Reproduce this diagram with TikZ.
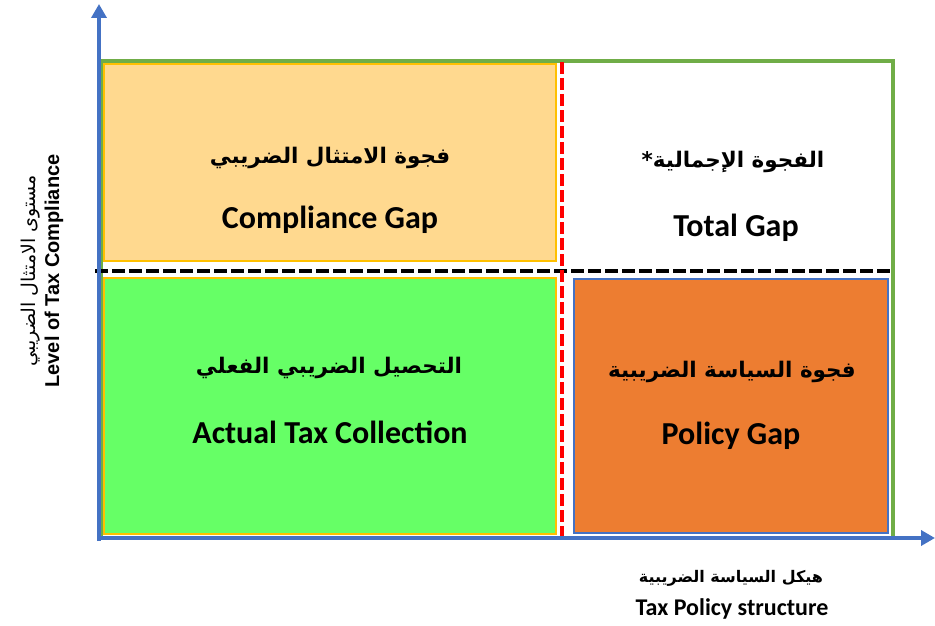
\documentclass[tikz,border=0pt]{standalone}
\usepackage{fontspec}
\setmainfont{Carlito}
\newfontfamily\arabicfont[Script=Arabic]{DejaVu Sans}
\newfontfamily\arialfont{Liberation Sans}
\TeXXeTstate=1
\usetikzlibrary{arrows.meta}

\definecolor{axisblue}{HTML}{4472C4}
\definecolor{framegreen}{HTML}{70AD47}
\definecolor{goldline}{HTML}{FFC000}
\definecolor{peach}{HTML}{FFD98F}
\definecolor{brightgreen}{HTML}{66FF66}
\definecolor{burnt}{HTML}{ED7D31}
\definecolor{dashred}{HTML}{FF0000}

\tikzset{
  axisline/.style={draw=axisblue, line width=4pt, -{Triangle[length=14pt,width=15pt]}},
  quadbox/.style={line width=2pt},
  artext/.style={font=\arabicfont\bfseries\fontsize{21.5}{26}\selectfont, inner sep=0pt},
  entext/.style={font=\bfseries\fontsize{32}{36}\selectfont, inner sep=0pt},
}

\begin{document}
\begin{tikzpicture}[x=1pt,y=-1pt]
\useasboundingbox (0,0) rectangle (935,626);

% outer frame
\draw[framegreen, line width=4pt] (101,61) rectangle (893,538);

% quadrants
\filldraw[quadbox, fill=peach, draw=goldline] (104,64) rectangle (556,261);
\filldraw[quadbox, fill=brightgreen, draw=goldline] (104,278) rectangle (556,534);
\filldraw[quadbox, fill=burnt, draw=axisblue, line width=2.5pt] (574,279) rectangle (888,533);

% separating dashed lines
\draw[black, line width=3.5pt, dash pattern=on 13pt off 4pt] (95,271) -- (890,271);
\draw[dashred, line width=4pt, dash pattern=on 12pt off 4pt] (562,62) -- (562,538);

% axes
\coordinate (origin) at (99,538);
\coordinate (ytip) at (99,4);
\coordinate (xtip) at (935,538);
\draw[axisline] (99,541) -- (ytip);
\draw[axisline] (97,538) -- (xtip);

% quadrant labels
\node[artext] (compAr) at (330,158) {\beginR فجوة الامتثال الضريبي\endR};
\node[entext] (compEn) at (330,220) {Compliance Gap};
\node[artext] (totAr) at (733,162) {\beginR الفجوة الإجمالية*\endR};
\node[entext] (totEn) at (736,228) {Total Gap};
\node[artext] (actAr) at (329,368) {\beginR التحصيل الضريبي الفعلي\endR};
\node[entext] (actEn) at (330,432) {Actual Tax Collection};
\node[artext] (polAr) at (732,372) {\beginR فجوة السياسة الضريبية\endR};
\node[entext] (polEn) at (731,436) {Policy Gap};

% axis titles
\node[font=\arabicfont\bfseries\fontsize{16}{20}\selectfont, inner sep=0pt] (xAr) at (731,578) {\beginR هيكل السياسة الضريبية\endR};
\node[font=\bfseries\fontsize{24}{28}\selectfont, inner sep=0pt] (xEn) at (732,609) {Tax Policy structure};
\node[rotate=90, font=\arabicfont\fontsize{19}{22}\selectfont, inner sep=0pt] (yAr) at (31,271) {\beginR مستوى  الامتثال الضريبي\endR};
\node[rotate=90, font=\arialfont\bfseries\fontsize{20}{24}\selectfont, inner sep=0pt] (yEn) at (54,271) {Level of Tax Compliance};
\end{tikzpicture}
\end{document}
